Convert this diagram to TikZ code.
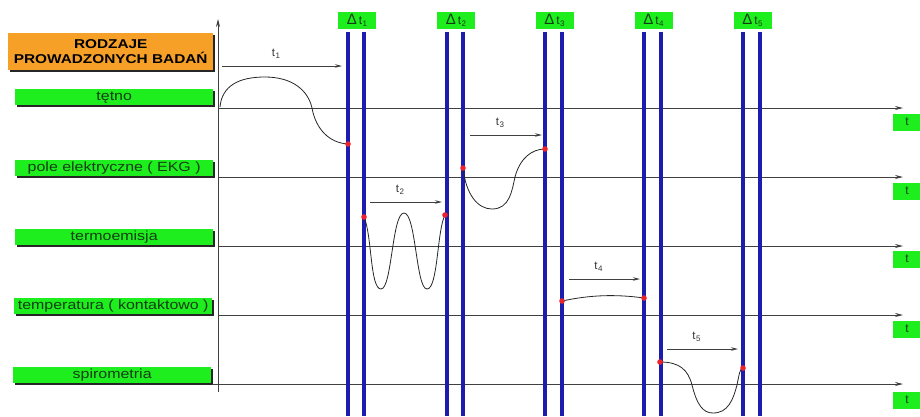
\documentclass[tikz,border=0pt]{standalone}
\usepackage{fontspec}
\setmainfont{Liberation Sans}
\newfontfamily\labfont[FakeStretch=1.2]{Liberation Sans}
\usetikzlibrary{arrows.meta,shadows}
\definecolor{lime}{RGB}{30,238,30}
\definecolor{orng}{RGB}{246,160,40}
\definecolor{bluel}{RGB}{28,28,175}
\definecolor{dotred}{RGB}{235,35,45}
\definecolor{txtgrn}{RGB}{20,60,20}
\newcommand\tlab[1]{t\kern0.4pt\raisebox{-0.22em}{\fontsize{8}{8}\selectfont #1}}
\tikzset{
  lbl/.style={fill=lime, minimum width=198pt, minimum height=16pt, inner sep=0pt,
    anchor=north west, font=\labfont\fontsize{13.3}{14}\selectfont, text=txtgrn,
    drop shadow={shadow xshift=2pt, shadow yshift=-2pt, fill=black!85, opacity=1}},
  hdr/.style={fill=orng, minimum width=205pt, minimum height=37pt, inner sep=0pt,
    anchor=north west, align=center, font=\labfont\bfseries\fontsize{12.8}{15}\selectfont,
    drop shadow={shadow xshift=2pt, shadow yshift=-2pt, fill=black!85, opacity=1}},
  dbox/.style={fill=lime, minimum width=38pt, minimum height=17pt, inner sep=0pt,
    font=\fontsize{12}{12}\selectfont, text=txtgrn},
  tbox/.style={fill=lime, minimum width=28pt, minimum height=17pt, inner sep=0pt,
    font=\fontsize{12}{12}\selectfont, text=txtgrn},
  axisline/.style={draw=black!75, line width=0.8pt, -{Stealth[length=8pt,width=4pt]}},
  tarrow/.style={draw=black!75, line width=0.8pt, -{Stealth[length=7pt,width=3.5pt]}},
  tname/.style={font=\fontsize{11.5}{11.5}\selectfont, text=black!80},
  bline/.style={draw=bluel, line width=3.5pt},
  curve/.style={draw=black!85, line width=0.8pt},
  rdot/.style={fill=dotred},
}
\begin{document}
\begin{tikzpicture}[x=1pt,y=-1pt]
\useasboundingbox (0,0) rectangle (920,416);
% header and row labels
\node[hdr] (hdr) at (8,33) {RODZAJE\\PROWADZONYCH BADAŃ};
\node[lbl] (l1) at (15,89) {tętno};
\node[lbl] (l2) at (15,160) {pole elektryczne ( EKG )};
\node[lbl] (l3) at (15,229) {termoemisja};
\node[lbl] (l4) at (14,298) {temperatura ( kontaktowo )};
\node[lbl] (l5) at (13,367) {spirometria};
% axes
\coordinate (vb) at (218,392); \coordinate (vt) at (218,19);
\draw[axisline] (vb) -- (vt);
\foreach \i/\y/\xs in {1/108/218,2/177/218,3/246/218,4/315/218,5/384/212}{
  \coordinate (as\i) at (\xs,\y); \coordinate (ae\i) at (903,\y);
  \draw[axisline] (as\i) -- (ae\i);
}
% t boxes
\node[tbox] (t1) at (907,122) {t};
\node[tbox] (t2) at (907,191) {t};
\node[tbox] (t3) at (907,259) {t};
\node[tbox] (t4) at (907,329) {t};
\node[tbox] (t5) at (907,400) {t};
% blue lines and delta boxes
\foreach \i/\xa/\xb in {1/348/364,2/447/463,3/545/562,4/644/661,5/743/760}{
  \coordinate (ba\i) at (\xa,32); \coordinate (bA\i) at (\xa,416);
  \coordinate (bb\i) at (\xb,32); \coordinate (bB\i) at (\xb,416);
  \draw[bline] (ba\i) -- (bA\i);
  \draw[bline] (bb\i) -- (bB\i);
  \node[dbox] (d\i) at ({(\xa+\xb)/2+1},20.5) {{\fontsize{15}{15}\selectfont Δ}\kern2pt\tlab{\i}};
}
% time arrows
\foreach \i/\xa/\xb/\y in {1/222/342/66,2/370/442/202,3/470/542/135,4/569/640/279,5/667/738/349}{
  \coordinate (ts\i) at (\xa,\y); \coordinate (te\i) at (\xb,\y);
  \draw[tarrow] (ts\i) -- (te\i);
  \node[tname] (tn\i) at ({(\xa+\xb)/2-6},{\y-12}) {\tlab{\i}};
}
% curves
\coordinate (c1s) at (220,107); \coordinate (c1e) at (348,144);
\draw[curve] (c1s) .. controls (222,85) and (240,77) .. (265,77)
  .. controls (292,77) and (308,90) .. (312,108)
  .. controls (316,130) and (330,143) .. (c1e);
\coordinate (c2s) at (463,168); \coordinate (c2e) at (545,149);
\draw[curve] (c2s) .. controls (466,195) and (478,209) .. (492,209)
  .. controls (510,209) and (512,190) .. (515,177)
  .. controls (520,158) and (532,149) .. (c2e);
\coordinate (c3s) at (364,217); \coordinate (c3e) at (445,215);
\draw[curve] (c3s) .. controls (372,235) and (370,289) .. (381,289)
  .. controls (392,289) and (392,213) .. (404,213)
  .. controls (416,213) and (416,289) .. (427,289)
  .. controls (438,289) and (437,230) .. (c3e);
\coordinate (c4s) at (562,301); \coordinate (c4e) at (644,298);
\draw[curve] (c4s) .. controls (590,295) and (615,294) .. (c4e);
\coordinate (c5s) at (660,362); \coordinate (c5e) at (743,368);
\draw[curve] (c5s) .. controls (680,362) and (688,370) .. (692,385)
  .. controls (697,405) and (703,413) .. (713,413)
  .. controls (728,413) and (733,400) .. (737,385)
  .. controls (739,375) and (740,368) .. (c5e);
% red dots
\foreach \p in {c1e,c2s,c2e,c3s,c3e,c4s,c4e,c5s,c5e}{
  \fill[rdot] (\p) circle (2.8pt);
}
\end{tikzpicture}
\end{document}
